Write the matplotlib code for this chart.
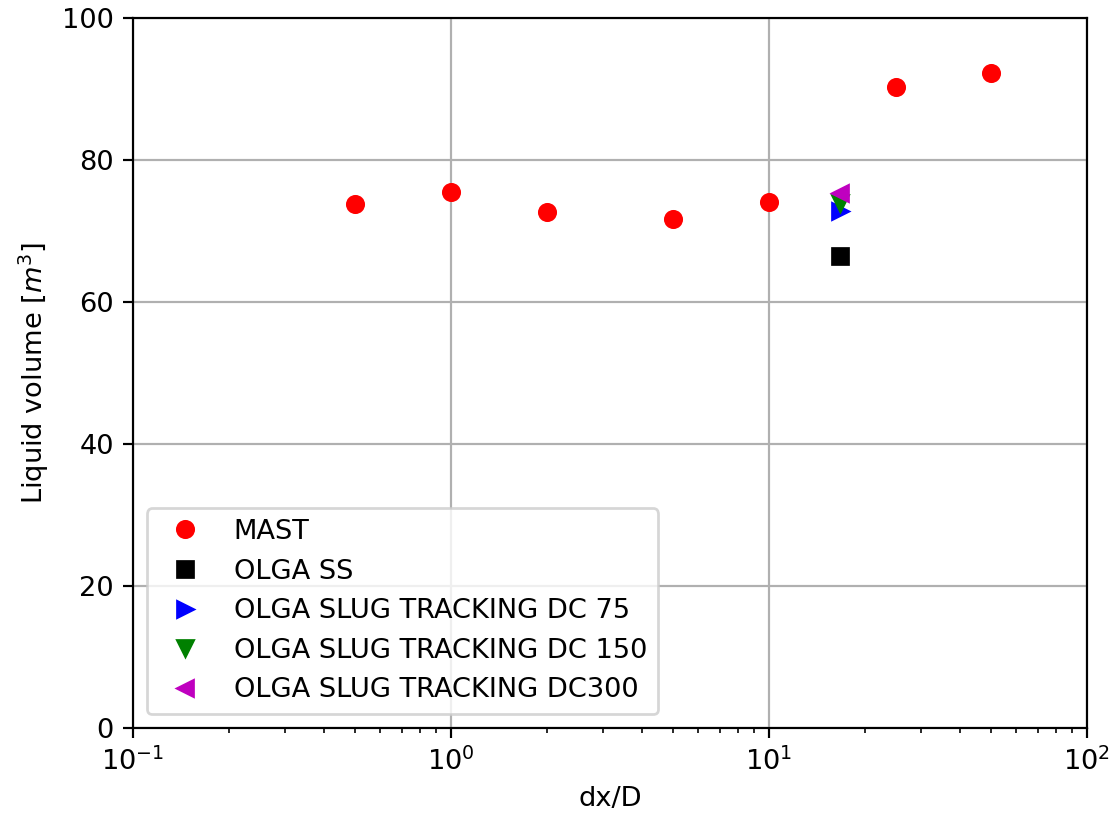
import numpy as np
import matplotlib
matplotlib.use('Agg')
import matplotlib.pyplot as plt

# MAST grid refinement results
mast_dx = [0.5, 1, 2, 5, 10, 25, 50]
mast_vol = [73.8, 75.5, 72.7, 71.7, 74.1, 90.3, 92.3]

# OLGA runs, all at the same dx/D
olga_dx = 16.67
olga_ss = 66.5
olga_dc75 = 72.8
olga_dc150 = 73.9
olga_dc300 = 75.4

DPI = 196
fig = plt.figure(figsize=(1112 / DPI, 822 / DPI), dpi=DPI)
ax = fig.add_subplot(111)
fig.subplots_adjust(left=0.1196, right=0.9775, top=0.978, bottom=0.1144)

ax.plot(mast_dx, mast_vol, 'ro', label='MAST')
ax.plot(olga_dx, olga_ss, 'ks', label='OLGA SS')
ax.plot(olga_dx, olga_dc75, 'b>', label='OLGA SLUG TRACKING DC 75')
ax.plot(olga_dx, olga_dc150, 'gv', label='OLGA SLUG TRACKING DC 150')
ax.plot(olga_dx, olga_dc300, 'm<', label='OLGA SLUG TRACKING DC300')

ax.set_xscale('log')
ax.set_xlim(0.1, 100)
ax.set_ylim(0, 100)
ax.set_xlabel('dx/D')
ax.set_ylabel('Liquid volume [$m^3$]')
ax.grid(True)
ax.legend(loc='lower left')

fig.savefig('out.png', dpi=DPI)
